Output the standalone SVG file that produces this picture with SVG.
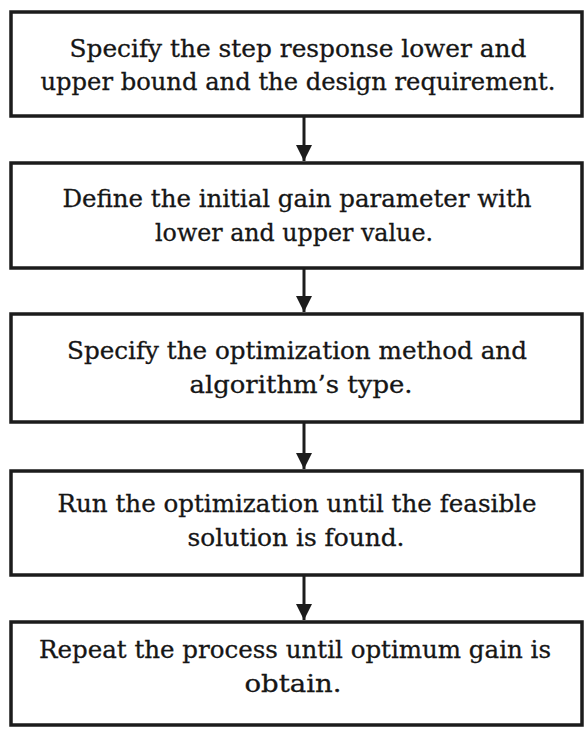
<svg xmlns="http://www.w3.org/2000/svg" width="584" height="729" viewBox="0 0 584 729">
  <style>
    .box { fill: #ffffff; stroke: #1c1c1c; stroke-width: 3.5; }
    .lbl { font-family: "DejaVu Serif", "Liberation Serif", serif; font-size: 24px; fill: #161616; stroke: #161616; stroke-width: 0.3; text-anchor: middle; }
    .conn { stroke: #1c1c1c; stroke-width: 3; fill: none; marker-end: url(#head); }
  </style>
  <defs>
    <marker id="head" viewBox="0 0 10 10" refX="10" refY="5" markerWidth="5.5" markerHeight="5.5" orient="auto" markerUnits="strokeWidth">
      <path d="M0,0 L10,5 L0,10 Z" fill="#1c1c1c"/>
    </marker>
  </defs>
  <rect width="584" height="729" fill="#ffffff"/>

  <g id="connectors">
    <line class="conn" x1="304" y1="117" x2="304" y2="161"/>
    <line class="conn" x1="304" y1="269" x2="304" y2="312"/>
    <line class="conn" x1="304" y1="423" x2="304" y2="469"/>
    <line class="conn" x1="304" y1="576" x2="304" y2="620"/>
  </g>

  <g id="step1">
    <rect class="box" x="11" y="12" width="571" height="104"/>
    <text class="lbl" x="298" y="57" textLength="457" lengthAdjust="spacingAndGlyphs">Specify the step response lower and</text>
    <text class="lbl" x="298" y="90" textLength="515" lengthAdjust="spacingAndGlyphs">upper bound and the design requirement.</text>
  </g>

  <g id="step2">
    <rect class="box" x="11" y="163" width="571" height="105"/>
    <text class="lbl" x="297" y="207" textLength="469" lengthAdjust="spacingAndGlyphs">Define the initial gain parameter with</text>
    <text class="lbl" x="294" y="241" textLength="278" lengthAdjust="spacingAndGlyphs">lower and upper value.</text>
  </g>

  <g id="step3">
    <rect class="box" x="11" y="314" width="571" height="108"/>
    <text class="lbl" x="297" y="359" textLength="460" lengthAdjust="spacingAndGlyphs">Specify the optimization method and</text>
    <text class="lbl" x="301" y="393" textLength="223" lengthAdjust="spacingAndGlyphs">algorithm’s type.</text>
  </g>

  <g id="step4">
    <rect class="box" x="11" y="471" width="571" height="104"/>
    <text class="lbl" x="297" y="512" textLength="479" lengthAdjust="spacingAndGlyphs">Run the optimization until the feasible</text>
    <text class="lbl" x="296" y="546" textLength="217" lengthAdjust="spacingAndGlyphs">solution is found.</text>
  </g>

  <g id="step5">
    <rect class="box" x="11" y="622" width="571" height="103"/>
    <text class="lbl" x="295" y="658" textLength="512" lengthAdjust="spacingAndGlyphs">Repeat the process until optimum gain is</text>
    <text class="lbl" x="293" y="692" textLength="97" lengthAdjust="spacingAndGlyphs">obtain.</text>
  </g>
</svg>
